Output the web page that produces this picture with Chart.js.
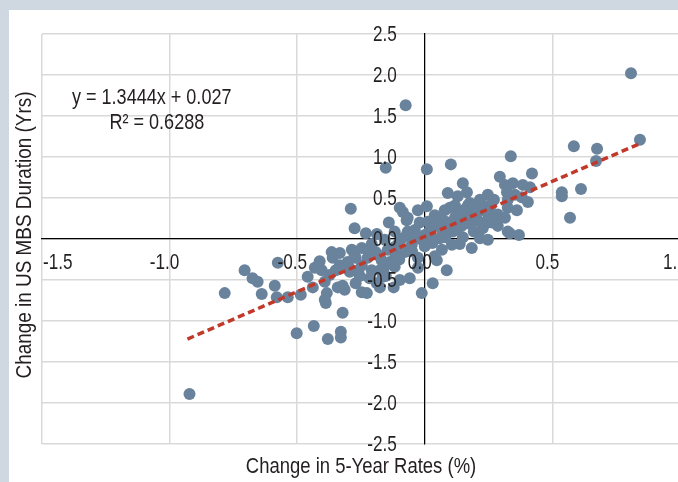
<!DOCTYPE html>
<html>
<head>
<meta charset="utf-8">
<script src="https://cdn.jsdelivr.net/npm/chart.js@4"></script>
<style>
  html, body { margin: 0; padding: 0; background: #cfd8e0; overflow: hidden; width: 678px; height: 482px; }
  #panel { position: absolute; left: 9px; top: 10px; width: 700px; height: 472px; background: #fff; }
</style>
</head>
<body>
<div id="panel"><canvas id="myChart"></canvas></div>
<script>
// rate change (%) vs MBS duration change (yrs)
const rateChange = [
  -0.922, -0.784, -0.706, -0.675, -0.655, -0.639, -0.588, -0.580, -0.576, -0.537,
  -0.486, -0.459, -0.502, -0.435, -0.380, -0.329, -0.329, -0.322, -0.412, -0.365,
  -0.361, -0.392, -0.384, -0.392, -0.341, -0.388, -0.322, -0.314, -0.271, -0.227,
  -0.176, -0.122, -0.012, 0.031, -0.290, -0.275, -0.231, -0.188, -0.141, -0.153,
  -0.075, -0.098, -0.067, 0.008, 0.102, 0.008, -0.333, -0.286, -0.275, -0.439,
  -0.404, -0.247, -0.188, -0.165, -0.118, 0.012, -0.176, 0.086, 0.047, 0.149,
  0.165, 0.169, 0.090, 0.098, 0.118, 0.176, 0.247, 0.216, 0.294, 0.314,
  0.337, 0.039, -0.071, -0.086, 0.204, 0.247, 0.227, 0.247, 0.184, 0.149,
  0.059, -0.020, 0.020, 0.110, 0.169, -0.047, 0.325, 0.325, 0.345, 0.420,
  0.412, 0.322, 0.353, 0.380, 0.404, 0.325, 0.255, 0.263, 0.333, 0.369,
  0.537, 0.537, 0.612, 0.569, 0.584, 0.675, 0.671, 0.808, 0.843, -0.333,
  -0.302, -0.271, -0.247, -0.224, -0.208, -0.192, -0.169, -0.145, -0.137, -0.114,
  -0.106, -0.090, -0.078, -0.067, -0.051, -0.039, -0.027, -0.012, 0.000, 0.012,
  0.027, 0.043, 0.059, 0.071, 0.082, 0.098, 0.118, 0.129, 0.137, 0.157,
  0.176, 0.196, 0.208, 0.227, 0.243, 0.271, 0.286, 0.067, 0.106, 0.039,
  -0.027, -0.059, -0.098, -0.153, -0.216, -0.255, -0.294, -0.349, -0.373, -0.431,
  -0.118, -0.157, -0.208, -0.247, -0.027, 0.129, 0.078, 0.145, 0.192, 0.216,
  0.137, 0.286, 0.314, 0.361, 0.384, -0.220, -0.180, -0.120, -0.100, -0.050,
  -0.040, 0.000, 0.030, 0.050, 0.080, 0.120, 0.150, 0.180, 0.200, 0.230,
  0.260, 0.280, -0.300, -0.260, -0.160
];
const durationChange = [
  -1.89, -0.66, -0.38, -0.48, -0.52, -0.67, -0.57, -0.71, -0.29, -0.71,
  -0.68, -0.46, -1.15, -1.06, -1.22, -1.13, -1.20, -0.90, -0.27, -0.16,
  -0.23, -0.52, -0.66, -0.74, -0.59, -0.78, -0.57, -0.62, -0.54, -0.66,
  -0.59, -0.59, -0.66, -0.54, 0.37, 0.13, 0.07, 0.06, 0.20, 0.87,
  1.63, 0.38, 0.26, 0.85, 0.91, 0.40, -0.17, -0.13, -0.20, -0.59,
  -0.38, -0.65, -0.54, -0.46, -0.34, 0.07, -0.38, -0.38, -0.26, 0.68,
  0.57, 0.41, 0.56, 0.38, 0.41, 0.44, 0.54, 0.48, 0.76, 0.66,
  1.01, 0.29, 0.23, 0.33, 0.23, 0.20, 0.13, -0.01, -0.11, 0.02,
  0.01, 0.20, 0.11, 0.09, 0.21, -0.01, 0.09, 0.48, 0.68, 0.80,
  0.63, 0.57, 0.54, 0.51, 0.45, 0.38, 0.39, 0.20, 0.07, 0.05,
  0.57, 0.52, 0.61, 0.26, 1.13, 1.10, 0.95, 2.02, 1.21, -0.32,
  -0.28, -0.23, -0.32, -0.23, -0.38, -0.16, -0.26, -0.13, -0.28, -0.20,
  -0.07, 0.01, -0.16, 0.09, -0.07, 0.11, -0.23, -0.01, -0.09, 0.21,
  0.01, 0.16, 0.26, 0.09, 0.21, 0.13, 0.26, 0.13, 0.33, 0.26,
  0.33, 0.41, 0.33, 0.41, 0.33, 0.48, 0.30, -0.13, -0.07, -0.21,
  -0.35, -0.48, -0.50, -0.45, -0.48, -0.45, -0.40, -0.38, -0.44, -0.35,
  0.09, -0.01, -0.06, -0.11, 0.35, 0.52, 0.35, 0.16, 0.09, 0.01,
  -0.06, 0.16, 0.26, 0.35, 0.66, -0.15, -0.20, -0.10, -0.25, -0.15,
  0.02, 0.05, -0.05, 0.20, 0.02, 0.18, 0.35, 0.18, 0.25, 0.20,
  0.42, 0.28, -0.33, -0.38, -0.35
];
// ends of the dashed trend line as drawn
const trendX = [-0.93, 0.84];
const trendY = [-1.22, 1.16];

const xTickValues = [-1.5, -1.0, -0.5, 0.0, 0.5, 1.0];
const xTickLabels = ['-1.5', '-1.0', '-0.5', '0.0', '0.5', '1.0'];
const yTickValues = [-2.5, -2.0, -1.5, -1.0, -0.5, 0.0, 0.5, 1.0, 1.5, 2.0, 2.5];
const yTickLabels = ['-2.5', '-2.0', '-1.5', '-1.0', '-0.5', '0.0', '0.5', '1.0', '1.5', '2.0', '2.5'];
const equationLines = ['y = 1.3444x + 0.027', 'R\u00b2 = 0.6288'];
const xTitle = 'Change in 5-Year Rates (%)';
const yTitle = 'Change in US MBS Duration (Yrs)';

const FONT = "'Liberation Sans', Arial, sans-serif";
const TEXT = '#231f20';

const points = rateChange.map((x, i) => ({ x: x, y: durationChange[i] }));
const trend = trendX.map((x, i) => ({ x: x, y: trendY[i] }));

// narrow text: the source face is a condensed one, so squeeze horizontally
function narrowText (ctx, str, x, y, align, sx) {
  ctx.save();
  ctx.translate(x, y);
  ctx.scale(sx, 1);
  ctx.textAlign = align;
  ctx.fillText(str, 0, 0);
  ctx.restore();
}

const textPlugin = {
  id: 'texts',
  afterDraw (chart) {
    const ctx = chart.ctx;
    const a = chart.chartArea;
    const xs = chart.scales.x, ys = chart.scales.y;
    const x0 = xs.getPixelForValue(0), y0 = ys.getPixelForValue(0);
    ctx.save();
    ctx.fillStyle = TEXT;
    ctx.font = '22px ' + FONT;
    ctx.textBaseline = 'middle';

    // tick labels next to the crossing axes
    xTickValues.forEach((v, i) => {
      let px = xs.getPixelForValue(v) - 5;
      const w = ctx.measureText(xTickLabels[i]).width * 0.78;
      if (px - w / 2 < a.left + 1) px = a.left + 1 + w / 2;
      narrowText(ctx, xTickLabels[i], px, y0 + 24, 'center', 0.78);
    });
    yTickValues.forEach((v, i) => {
      narrowText(ctx, yTickLabels[i], x0 - 28, ys.getPixelForValue(v) + 1, 'right', 0.78);
    });

    narrowText(ctx, equationLines[0], xs.getPixelForValue(-1.07), ys.getPixelForValue(1.72), 'center', 0.82);
    narrowText(ctx, equationLines[1], xs.getPixelForValue(-1.05), ys.getPixelForValue(1.42), 'center', 0.82);

    narrowText(ctx, xTitle, (a.left + a.right) / 2, a.bottom + 23, 'center', 0.84);
    ctx.save();
    ctx.translate(a.left - 17, (a.top + a.bottom) / 2 - 4);
    ctx.rotate(-Math.PI / 2);
    narrowText(ctx, yTitle, 0, 0, 'center', 0.86);
    ctx.restore();
    ctx.restore();
  }
};

const ctx = document.getElementById('myChart').getContext('2d');
const chart = new Chart(ctx, {
  type: 'scatter',
  data: {
    datasets: [{
      type: 'line',
      data: trend,
      borderColor: '#c0392b',
      borderWidth: 3.5,
      borderDash: [7, 4],
      pointRadius: 0,
      fill: false,
      order: 0
    }, {
      data: points,
      backgroundColor: '#6a839c',
      borderWidth: 0,
      pointRadius: 6,
      pointHoverRadius: 6,
      order: 1
    }]
  },
  options: {
    responsive: true,
    maintainAspectRatio: false,
    animation: false,
    layout: { padding: { left: 33, right: 29, top: 24, bottom: 38 } },
    plugins: { legend: { display: false }, tooltip: { enabled: false } },
    scales: {
      x: {
        type: 'linear',
        min: -1.5, max: 1.0,
        position: { y: 0 },
        grid: { color: '#d9d9d9', lineWidth: 1.5, drawTicks: false },
        border: { color: '#000', width: 1.2 },
        ticks: { stepSize: 0.5, display: false }
      },
      y: {
        type: 'linear',
        min: -2.5, max: 2.5,
        position: { x: 0 },
        grid: { color: '#d9d9d9', lineWidth: 1.5, drawTicks: false },
        border: { color: '#000', width: 1.2 },
        ticks: { stepSize: 0.5, display: false }
      }
    }
  },
  plugins: [textPlugin]
});
</script>
</body>
</html>
